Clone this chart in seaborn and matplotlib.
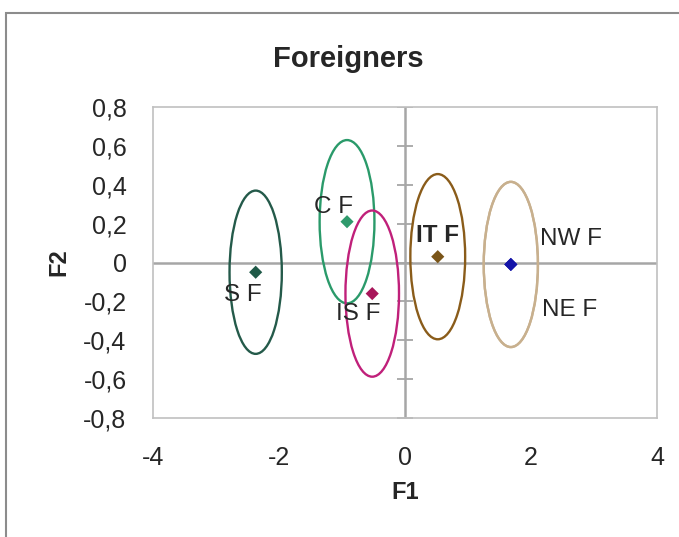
import numpy as np
import pandas as pd
import seaborn as sns
import matplotlib.pyplot as plt
from matplotlib.patches import Ellipse, Rectangle

# Group centroids on the first two factors
groups = ['S F', 'C F', 'IS F', 'IT F', 'NW F', 'NE F']
f1 = [-2.37, -0.92, -0.52, 0.52, 1.68, 1.68]
f2 = [-0.05, 0.21, -0.16, 0.03, -0.01, -0.01]
# confidence ellipse full width (F1) and height (F2)
ell_w = [0.83, 0.87, 0.85, 0.87, 0.86, 0.86]
ell_h = [0.84, 0.84, 0.855, 0.85, 0.85, 0.85]

x_ticks = [-4, -2, 0, 2, 4]
y_ticks = [-0.8, -0.6, -0.4, -0.2, 0, 0.2, 0.4, 0.6, 0.8]

marker_colors = ['#1f5a48', '#2f9a6c', '#a8165a', '#7a5518', '#1414a8', '#1414a8']
ellipse_colors = ['#245a4a', '#2a9a6a', '#c0207a', '#8a5c1a', '#c8b08e', '#c8b08e']
label_offsets = [(-13, -20), (-13, 17), (-14, -18), (0, 24), (60, 28), (59, -43)]

df = pd.DataFrame({'group': groups, 'F1': f1, 'F2': f2})

sns.set_style('white')
plt.rcParams['font.family'] = ['Liberation Sans', 'DejaVu Sans']

fig = plt.figure(figsize=(6.79, 5.37), dpi=100)
ax = fig.add_axes([0.2253, 0.2216, 0.7423, 0.5791])

# outer chart frame
fig.patches.append(Rectangle((6 / 679, -0.01), 1.0, 1 - 13 / 537 + 0.01,
                             transform=fig.transFigure, fill=False,
                             edgecolor='#8c8c8c', linewidth=1.5))

ax.axhline(0, color='#a6a6a6', linewidth=1.8, zorder=1)
ax.axvline(0, color='#a6a6a6', linewidth=1.8, zorder=1)
# crossing tick marks on the vertical axis
ax.plot([0] * len(y_ticks), y_ticks, linestyle='none', marker='_',
        markersize=12, markeredgewidth=1.3, color='#a6a6a6', zorder=1)

for x, y, w, h, c in zip(f1, f2, ell_w, ell_h, ellipse_colors):
    ax.add_patch(Ellipse((x, y), w, h, fill=False, edgecolor=c,
                         linewidth=1.7, zorder=2))

sns.scatterplot(data=df, x='F1', y='F2', hue='group', palette=marker_colors,
                marker='D', s=45, edgecolor='none', legend=False, ax=ax, zorder=3)

for g, x, y, off in zip(groups, f1, f2, label_offsets):
    ax.annotate(g, (x, y), xytext=off, textcoords='offset pixels',
                ha='center', va='center_baseline', fontsize=17.5, color='#262626',
                fontweight='bold' if g == 'IT F' else 'normal')

ax.set_xlim(-4, 4)
ax.set_ylim(-0.8, 0.8)
ax.set_xticks(x_ticks)
ax.set_yticks(y_ticks)
ax.set_xticklabels([str(t) for t in x_ticks])
ax.set_yticklabels([('%.1f' % t).replace('.', ',') if t != 0 else '0' for t in y_ticks])
ax.tick_params(length=0, labelsize=18, colors='#262626')
ax.tick_params(axis='x', pad=20)
ax.tick_params(axis='y', pad=19)
for s in ax.spines.values():
    s.set_color('#c0c0c0')
    s.set_linewidth(1.2)

ax.set_xlabel('F1', fontsize=17, fontweight='bold', labelpad=8)
ax.set_ylabel('F2', fontsize=17, fontweight='bold', labelpad=9)
fig.text(348 / 679, 1 - 67 / 537, 'Foreigners', ha='center', va='baseline',
         fontsize=21, fontweight='bold')

fig.savefig('out.png', dpi=100)
